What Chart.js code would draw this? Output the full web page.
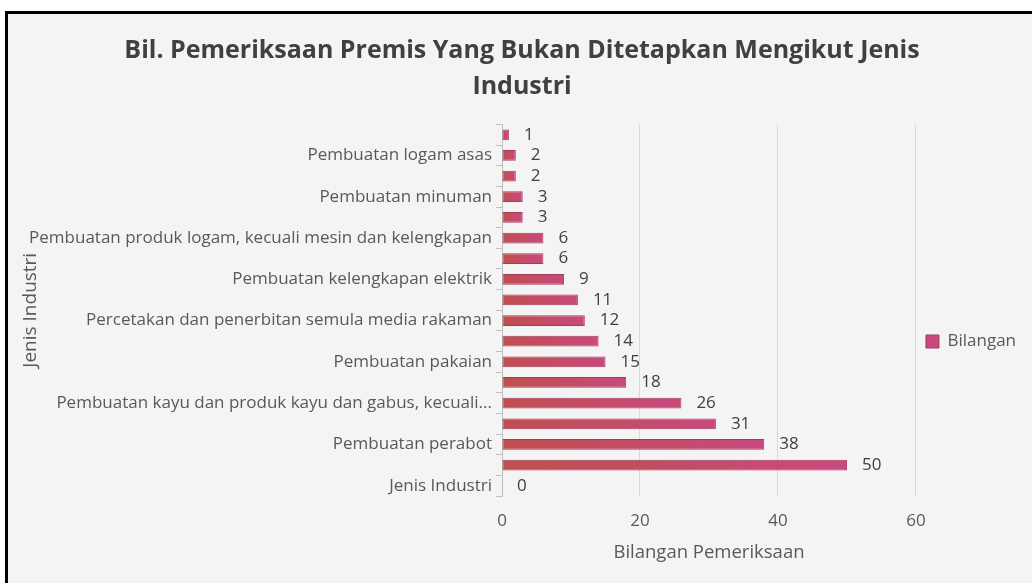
<!DOCTYPE html>
<html>
<head>
<meta charset="utf-8">
<script src="https://cdn.jsdelivr.net/npm/chart.js@4"></script>
<style>
  html, body { margin: 0; padding: 0; background: #fff; overflow: hidden; }
  #frame {
    position: absolute; left: 5px; top: 11px;
    width: 1030px; height: 580px;
    border-left: 3px solid #000; border-top: 3px solid #000;
    background: #f4f4f4;
  }
  #wrap { position: absolute; left: 0; top: 0; width: 1024px; height: 569px; }
</style>
</head>
<body>
<div id="frame"><div id="wrap"><canvas id="chart"></canvas></div></div>
<script>
// categories top to bottom; Excel only printed every second name, the rest are left blank
const industries = [
    '', 'Pembuatan logam asas', '', 'Pembuatan minuman', '',
    'Pembuatan produk logam, kecuali mesin dan kelengkapan', '',
    'Pembuatan kelengkapan elektrik', '',
    'Percetakan dan penerbitan semula media rakaman', '',
    'Pembuatan pakaian', '',
    'Pembuatan kayu dan produk kayu dan gabus, kecuali...', '',
    'Pembuatan perabot', '', 'Jenis Industri'
];
const bilangan = [1, 2, 2, 3, 3, 6, 6, 9, 11, 12, 14, 15, 18, 26, 31, 38, 50, 0];
const xTicks = [0, 20, 40, 60];

const chartTitle = ['Bil. Pemeriksaan Premis Yang Bukan Ditetapkan Mengikut Jenis', 'Industri'];
const font = '"Open Sans", Lato, sans-serif';

// bar gradient: red at the axis, pink at the bar end
function barFill(ctx) {
    const c = ctx.chart;
    if (!c.chartArea || ctx.raw === undefined) return '#c64b6c';
    const x = c.scales.x;
    const x0 = x.getPixelForValue(0);
    const x1 = Math.max(x.getPixelForValue(ctx.raw), x0 + 1);
    const g = c.ctx.createLinearGradient(x0, 0, x1, 0);
    g.addColorStop(0, '#bf4f4e');
    g.addColorStop(1, '#c9497e');
    return g;
}

// value labels to the right of each bar
const valueLabels = {
    id: 'valueLabels',
    afterDatasetsDraw(chart) {
        const ctx = chart.ctx;
        const meta = chart.getDatasetMeta(0);
        ctx.save();
        ctx.font = '17px ' + font;
        ctx.fillStyle = '#404040';
        ctx.textAlign = 'left';
        ctx.textBaseline = 'middle';
        meta.data.forEach((bar, i) => {
            ctx.fillText(String(bilangan[i]), bar.x + 15, bar.y);
        });
        ctx.restore();
    }
};

new Chart(document.getElementById('chart'), {
    type: 'bar',
    data: {
        labels: industries,
        datasets: [{
            label: 'Bilangan',
            data: bilangan,
            backgroundColor: barFill,
            borderColor: '#a33d5c',
            borderWidth: 1,
            borderSkipped: false,
            categoryPercentage: 1,
            barPercentage: 0.52
        }]
    },
    options: {
        indexAxis: 'y',
        responsive: true,
        maintainAspectRatio: false,
        animation: false,
        layout: { padding: { left: 10, right: 6, top: 0, bottom: 0 } },
        plugins: {
            title: {
                display: true,
                text: chartTitle,
                color: '#404040',
                font: { family: font, size: 25, weight: 'bold', lineHeight: 1.47 },
                padding: { top: 18, bottom: 19 }
            },
            legend: {
                position: 'right',
                // empty title only pushes the single entry down to where Excel had it
                title: { display: true, text: '', font: { size: 1, lineHeight: 1 }, padding: { top: 85, bottom: 0 } },
                labels: {
                    color: '#595959',
                    font: { family: font, size: 17 },
                    boxWidth: 13,
                    boxHeight: 13,
                    padding: 10
                }
            },
            tooltip: { enabled: false }
        },
        scales: {
            x: {
                min: 0,
                max: 60,
                afterBuildTicks: s => { s.ticks = xTicks.map(v => ({ value: v })); },
                afterFit: s => { s.height = 87; },
                grid: { color: '#d9d9d9', drawTicks: false },
                border: { display: false },
                ticks: { color: '#595959', font: { family: font, size: 17 }, padding: 15 },
                title: {
                    display: true,
                    text: 'Bilangan Pemeriksaan',
                    color: '#595959',
                    font: { family: font, size: 18.5 },
                    padding: { top: 0, bottom: 19 }
                }
            },
            y: {
                afterFit: s => { s.width = 484; },
                grid: { drawOnChartArea: false, drawTicks: true, tickLength: 6, color: '#bfbfbf', offset: true },
                border: { display: true, color: '#bfbfbf' },
                ticks: {
                    autoSkip: false,
                    color: '#595959',
                    font: { family: font, size: 17 },
                    padding: 4
                },
                title: {
                    display: true,
                    text: 'Jenis Industri',
                    color: '#595959',
                    font: { family: font, size: 19 },
                    padding: { top: 1, bottom: 0 }
                }
            }
        }
    },
    plugins: [valueLabels]
});
</script>
</body>
</html>
